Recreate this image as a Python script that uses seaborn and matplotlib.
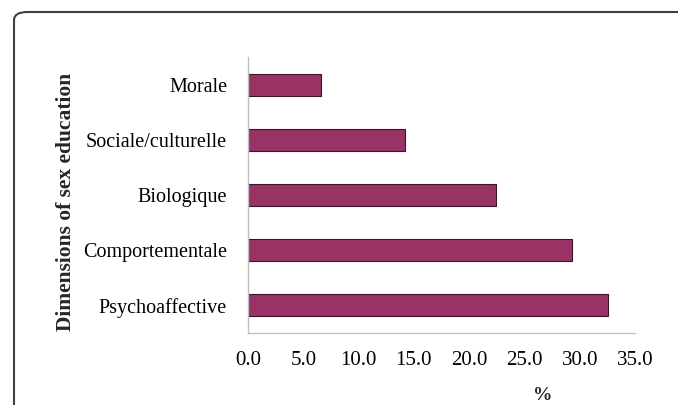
import matplotlib
matplotlib.use("Agg")
import matplotlib.pyplot as plt
from matplotlib.patches import FancyBboxPatch
from matplotlib.ticker import FixedLocator
import seaborn as sns
import pandas as pd

# Data
dimensions = ["Morale", "Sociale/culturelle", "Biologique", "Comportementale", "Psychoaffective"]
percent = [6.6, 14.2, 22.4, 29.3, 32.6]
x_ticks = [0, 5, 10, 15, 20, 25, 30, 35]

df = pd.DataFrame({"dimension": dimensions, "pct": percent})

sns.set_style("white")
plt.rcParams["font.family"] = ["Liberation Serif", "DejaVu Serif"]

W, H = 678, 405
fig = plt.figure(figsize=(W / 100, H / 100), dpi=100)
ax = fig.add_axes([248 / W, 1 - 333 / H, (635 - 248) / W, (333 - 57) / H])

sns.barplot(data=df, x="pct", y="dimension", order=dimensions, orient="h",
            color="#993366", saturation=1, width=0.4,
            edgecolor="#3d1426", linewidth=0.8, ax=ax)

ax.set_xlim(0, 35)
ax.set_ylim(len(dimensions) - 0.5, -0.5)
ax.set_xticks(x_ticks)
ax.set_xticklabels([f"{v:.1f}" for v in x_ticks])
ax.yaxis.set_minor_locator(FixedLocator([i - 0.5 for i in range(len(dimensions) + 1)]))

grey = "#bfbfbf"
for side in ["top", "right"]:
    ax.spines[side].set_visible(False)
for side in ["left", "bottom"]:
    ax.spines[side].set_color(grey)
    ax.spines[side].set_linewidth(1.0)

ax.tick_params(axis="x", which="major", length=6, width=1, color=grey,
               direction="out", labelsize=15, pad=7, labelcolor="black")
ax.tick_params(axis="y", which="major", length=0, labelsize=14.5, pad=15, labelcolor="black")
ax.tick_params(axis="y", which="minor", length=6, width=1, color=grey, direction="out")

ax.set_xlabel("")
ax.set_ylabel("")
fig.text(66 / W, 1 - 202 / H, "Dimensions of sex education", rotation=90,
         ha="center", va="center", fontsize=15.5, fontweight="bold")
fig.text(543 / W, 1 - 395 / H, "%", ha="center", va="center",
         fontsize=14, fontweight="bold")

# rounded frame, running off the right and bottom edges
frame = FancyBboxPatch((14 / W, -0.2), 1.2, 1 - 12 / H + 0.2,
                       boxstyle="round,pad=0,rounding_size=0.02",
                       transform=fig.transFigure, fill=False,
                       edgecolor="#404040", linewidth=1.5, clip_on=False)
fig.patches.append(frame)

fig.savefig("out.png", dpi=100)
